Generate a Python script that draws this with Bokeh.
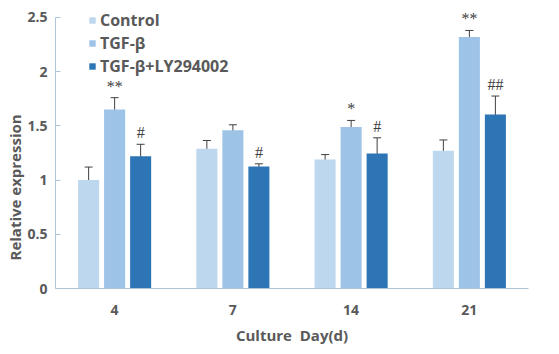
from bokeh.plotting import figure
from bokeh.models import (ColumnDataSource, FactorRange, Whisker, Legend, LegendItem,
                          Title, LabelSet, TeeHead)
from bokeh.transform import dodge
from bokeh.embed import file_html
from bokeh.resources import INLINE

days = ["4", "7", "14", "21"]
series = ["Control", "TGF-β", "TGF-β+LY294002"]
control = [1.00, 1.29, 1.19, 1.27]
control_err = [0.12, 0.075, 0.045, 0.10]
tgf = [1.65, 1.46, 1.49, 2.32]
tgf_err = [0.11, 0.05, 0.06, 0.06]
ly = [1.22, 1.125, 1.245, 1.605]
ly_err = [0.11, 0.025, 0.145, 0.17]
tgf_marks = ["**", "", "*", "**"]
ly_marks = ["#", "#", "#", "##"]
y_ticks = [0, 0.5, 1, 1.5, 2, 2.5]

colors = ["#BDD7EE", "#9DC3E6", "#2E75B6"]
offsets = [-0.22, 0.0, 0.22]
FONT = "Open Sans"
TXT = "#595959"
AXC = "#B0C4D8"

p = figure(x_range=FactorRange(*days, range_padding=0), y_range=(0, 2.61),
           width=559, height=354, output_backend="svg", toolbar_location=None,
           min_border_left=55, min_border_right=31, min_border_top=5, min_border_bottom=66)
p.outline_line_color = None
p.xgrid.grid_line_color = None
p.ygrid.grid_line_color = None

vals = [control, tgf, ly]
errs = [control_err, tgf_err, ly_err]
renderers = []
for i, (v, e) in enumerate(zip(vals, errs)):
    src = ColumnDataSource(dict(
        day=days, top=v,
        upper=[a + b for a, b in zip(v, e)],
        lower=[a - b for a, b in zip(v, e)],
    ))
    r = p.vbar(x=dodge("day", offsets[i], range=p.x_range), top="top", width=0.178,
               source=src, fill_color=colors[i], line_color=None)
    renderers.append(r)
    w = Whisker(base=dodge("day", offsets[i], range=p.x_range), upper="upper", lower="lower",
                source=src, line_color="#404040", line_width=1,
                upper_head=TeeHead(size=8, line_color="#404040", line_width=1),
                lower_head=TeeHead(size=8, line_color="#404040", line_width=1))
    p.add_layout(w)

# significance marks
for marks, v, e, off in [(tgf_marks, tgf, tgf_err, offsets[1]), (ly_marks, ly, ly_err, offsets[2])]:
    src = ColumnDataSource(dict(day=days, y=[a + b for a, b in zip(v, e)], t=marks))
    ls = LabelSet(x=dodge("day", off, range=p.x_range), y="y", text="t", source=src,
                  y_offset=3, text_align="center", text_baseline="bottom",
                  text_font=FONT, text_font_size="16px", text_color="#404040")
    p.add_layout(ls)

# axes
for ax in (p.xaxis[0], p.yaxis[0]):
    ax.axis_line_color = AXC
    ax.major_label_text_font = FONT
    ax.major_label_text_font_style = "bold"
    ax.major_label_text_font_size = "14px"
    ax.major_label_text_color = TXT
    ax.minor_tick_line_color = None
p.yaxis.ticker = y_ticks
p.yaxis.bounds = (0, 2.5)
p.yaxis.major_tick_in = 5
p.yaxis.major_tick_out = 0
p.yaxis.major_tick_line_color = AXC
p.yaxis.major_label_standoff = 8
p.xaxis.major_tick_line_color = None
p.xaxis.major_label_standoff = 10
p.xaxis.axis_label = "Culture\u00a0 Day(d)"
p.xaxis.axis_label_text_font = FONT
p.xaxis.axis_label_text_font_style = "bold"
p.xaxis.axis_label_text_font_size = "15px"
p.xaxis.axis_label_text_color = TXT
p.xaxis.axis_label_standoff = 7

ytitle = Title(text="Relative expression", align="left", offset=28,
               text_font=FONT, text_font_style="bold", text_font_size="15px",
               text_color=TXT, standoff=0)
p.add_layout(ytitle, "left")

legend = Legend(items=[LegendItem(label=s, renderers=[r]) for s, r in zip(series, renderers)],
                location=(33, 211), orientation="vertical", padding=0, margin=0,
                spacing=1, label_height=20, glyph_width=8, glyph_height=8,
                label_standoff=4, border_line_alpha=0, background_fill_alpha=0,
                label_text_font=FONT, label_text_font_style="bold",
                label_text_font_size="16px", label_text_color=TXT)
p.add_layout(legend, "center")

open("out.html", "w").write(file_html(p, INLINE))
